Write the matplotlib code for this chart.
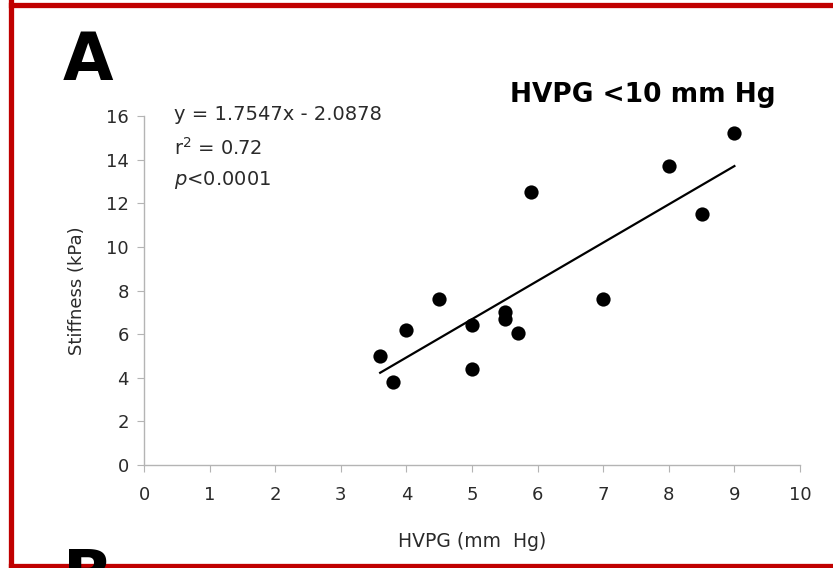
import matplotlib
matplotlib.use('Agg')
import numpy as np
import matplotlib.pyplot as plt
from matplotlib.lines import Line2D

# HVPG (mm Hg) vs liver stiffness (kPa), patients with HVPG < 10
hvpg = [3.6, 3.8, 4.0, 4.5, 5.0, 5.0, 5.5, 5.5, 5.7, 5.9, 7.0, 8.0, 8.5, 9.0]
stiffness = [5.0, 3.8, 6.2, 7.6, 6.4, 4.4, 7.0, 6.7, 6.05, 12.5, 7.6, 13.7, 11.5, 15.2]

slope = 1.7547
intercept = -2.0878
r2 = 0.72

xticks = list(range(0, 11))
yticks = list(range(0, 17, 2))

W, H = 833, 568
fig = plt.figure(figsize=(W / 100, H / 100), dpi=100)
ax = fig.add_axes([144 / W, 1 - 465 / H, 656 / W, 349 / H])

ax.scatter(hvpg, stiffness, s=105, color='black', zorder=3, linewidths=0)
xfit = np.array([min(hvpg), max(hvpg)])
ax.plot(xfit, slope * xfit + intercept, color='black', lw=1.6, zorder=2)

ax.set_xlim(0, 10)
ax.set_ylim(0, 16)
ax.set_xticks(xticks)
ax.set_yticks(yticks)
for s in ['top', 'right']:
    ax.spines[s].set_visible(False)
for s in ['left', 'bottom']:
    ax.spines[s].set_color('#b4b4b4')
    ax.spines[s].set_linewidth(1.0)
ax.tick_params(axis='both', direction='out', length=5, color='#b4b4b4',
               labelsize=13, labelcolor='#2a2a2a', pad=6)
ax.tick_params(axis='x', pad=10)

ax.set_xlabel('HVPG (mm  Hg)', fontsize=13.5, color='#2a2a2a', labelpad=20)
ax.set_ylabel('Stiffness (kPa)', fontsize=13, color='#2a2a2a', labelpad=14)

ax.text(0.045, 1 - (115 - 116) / 349, 'y = %.4fx - %.4f' % (slope, -intercept),
        transform=ax.transAxes, fontsize=14, color='#2a2a2a', va='center')
ax.text(0.045, 1 - (148 - 116) / 349, r'r$^2$ = %.2f' % r2,
        transform=ax.transAxes, fontsize=14, color='#2a2a2a', va='center')
ax.text(0.045, 1 - (180 - 116) / 349, r'$p$<0.0001',
        transform=ax.transAxes, fontsize=14, color='#2a2a2a', va='center')

fig.text(510 / W, 1 - 95 / H, 'HVPG <10 mm Hg', fontsize=19, fontweight='bold',
         ha='left', va='center')

fig.text(63 / W, 1 - 80 / H, 'A', fontsize=47, fontweight='bold', ha='left', va='baseline')
fig.text(63 / W, 1 - 597 / H, 'B', fontsize=47, fontweight='bold', ha='left', va='baseline')

# red frame: top, left and bottom edges (right edge falls outside)
red = '#c00000'
lw = 3.8
fig.lines.append(Line2D([10.5 / W, 1.0], [1 - 4.5 / H, 1 - 4.5 / H],
                        transform=fig.transFigure, color=red, lw=lw))
fig.lines.append(Line2D([10.5 / W, 1.0], [1 - 565.5 / H, 1 - 565.5 / H],
                        transform=fig.transFigure, color=red, lw=lw))
fig.lines.append(Line2D([10.5 / W, 10.5 / W], [1 - 2 / H, 1 - 568 / H],
                        transform=fig.transFigure, color=red, lw=lw))

fig.savefig('out.png', dpi=100)
